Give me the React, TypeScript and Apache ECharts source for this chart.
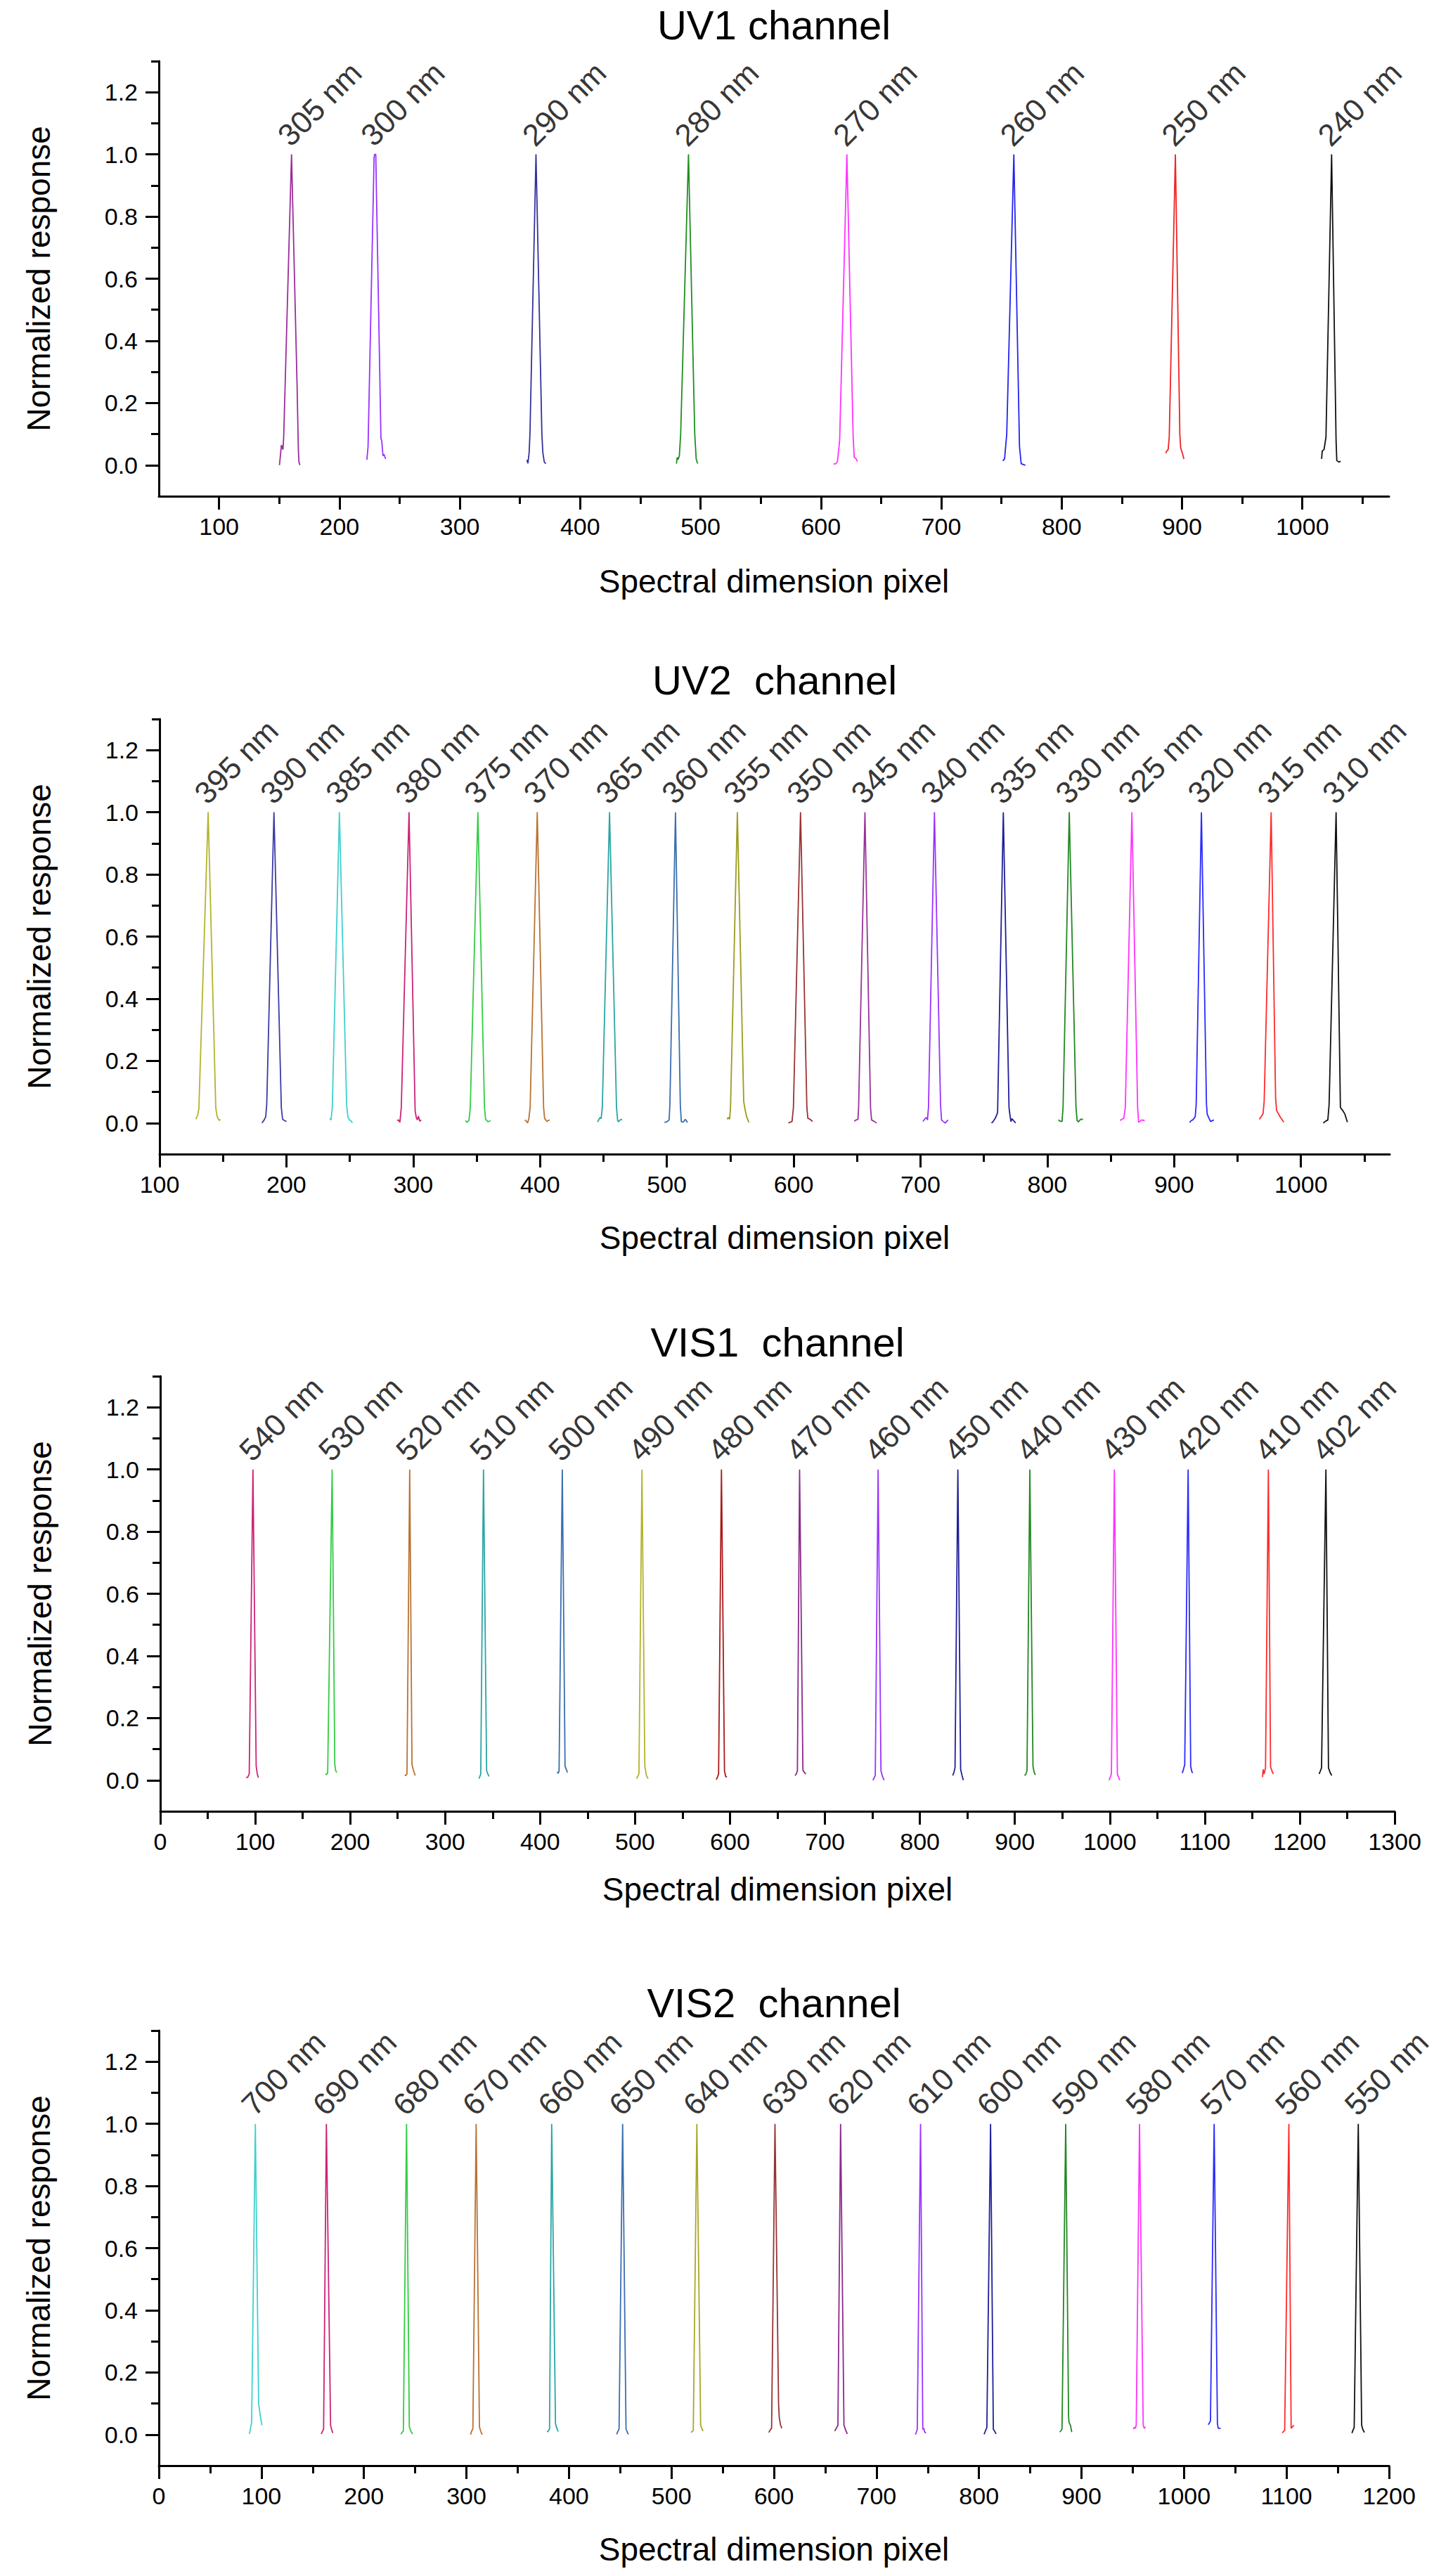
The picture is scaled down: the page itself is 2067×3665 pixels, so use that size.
import React, { useRef, useEffect } from 'react';
import * as echarts from 'echarts';

const FONT = 'Arial, "Liberation Sans", sans-serif';

// ---- UV1 channel ----
const uv1Labels = ['305 nm', '300 nm', '290 nm', '280 nm', '270 nm', '260 nm', '250 nm', '240 nm'];
const uv1Colors = ['#9b2d9b', '#9933ff', '#33339c', '#1f8f1f', '#ff33ff', '#2424f0', '#f02424', '#111111'];
const uv1Curves = [
  [[150.2, 0], [151.8, 0.065], [153.1, 0.05], [153.7, 0.09], [160.2, 1], [164.8, 0.26], [165.9, 0.05], [166.4, 0.01], [167.2, 0]],
  [[222.8, 0.017], [223.8, 0.06], [228.8, 0.99], [229.2, 1], [230.2, 1], [234.5, 0.085], [235.1, 0.08], [236.2, 0.03], [237, 0.035], [238.4, 0.02]],
  [[355.8, 0.017], [356.6, 0.006], [357.6, 0.04], [358.3, 0.1], [363.3, 1], [368.2, 0.1], [369, 0.04], [370.2, 0.01], [371.5, 0.005]],
  [[480, 0.005], [480.6, 0.025], [481.4, 0.018], [482.4, 0.03], [483.5, 0.1], [490, 1], [495.2, 0.1], [496.4, 0.02], [497.6, 0.005]],
  [[610.6, 0.003], [612.5, 0.005], [613.8, 0.012], [615.6, 0.08], [621.6, 1], [626.8, 0.09], [627.7, 0.025], [629, 0.022], [630.4, 0.012]],
  [[751.1, 0.014], [752.6, 0.02], [754.4, 0.1], [760.3, 1], [765, 0.06], [766.4, 0.005], [768, 0.002], [769.9, 0]],
  [[886.5, 0.038], [887.3, 0.045], [888.5, 0.05], [889.4, 0.09], [894.5, 1], [898.2, 0.1], [898.9, 0.055], [900.2, 0.04], [901.6, 0.02]],
  [[1016, 0.02], [1016.5, 0.045], [1018, 0.05], [1019.6, 0.09], [1024.3, 1], [1028, 0.08], [1028.6, 0.015], [1030.2, 0.01], [1031.8, 0.012]],
];
const uv1XMajor = [100, 200, 300, 400, 500, 600, 700, 800, 900, 1000];
const uv1XMinor = [150, 250, 350, 450, 550, 650, 750, 850, 950, 1050];

// ---- UV2 channel ----
const uv2Labels = ['395 nm', '390 nm', '385 nm', '380 nm', '375 nm', '370 nm', '365 nm', '360 nm', '355 nm',
  '350 nm', '345 nm', '340 nm', '335 nm', '330 nm', '325 nm', '320 nm', '315 nm', '310 nm'];
const uv2Colors = ['#b3b32e', '#3b3ba6', '#40d0d0', '#cc2277', '#33cc44', '#b87333', '#2aa5a5', '#3a6eb0', '#9c9c1c',
  '#993333', '#993399', '#9933ff', '#1f1f99', '#228822', '#ff33ff', '#2a2aff', '#ff2a2a', '#111111'];
const uv2Curves = [
  [[128.6, 0.012], [130, 0.025], [131, 0.046], [138.3, 1], [144.3, 0.05], [145.2, 0.025], [146, 0.015], [147.1, 0.008], [148, 0.012]],
  [[180.7, 0], [182.5, 0.01], [183.7, 0.02], [184.5, 0.06], [190.2, 1], [196, 0.05], [197, 0.012], [198.5, 0.008], [200, 0.005]],
  [[234.2, 0.015], [235.2, 0.01], [236.2, 0.05], [241.8, 1], [247.5, 0.06], [248.5, 0.02], [249.6, 0.01], [250.8, 0.008], [252, 0]],
  [[287.3, 0.008], [288.4, 0.01], [289.5, 0.002], [290.6, 0.05], [296.7, 1], [301.5, 0.04], [302.4, 0.018], [303.3, 0.01], [304.1, 0.022], [305.2, 0.006], [306.3, 0.01]],
  [[341.1, 0.008], [342.5, 0.002], [344, 0.01], [345, 0.05], [351, 1], [356.2, 0.05], [357.1, 0.012], [359, 0.004], [361.1, 0.008]],
  [[388, 0.01], [389.2, 0.006], [390.2, 0], [391.2, 0.015], [392.2, 0.05], [397.8, 1], [402.8, 0.05], [403.6, 0.015], [405.4, 0.005], [406.5, 0.008], [407.6, 0.01]],
  [[445.4, 0.003], [446.5, 0.012], [447.3, 0.018], [448.2, 0.014], [449.1, 0.05], [454.8, 1], [460.3, 0.05], [461.2, 0.008], [461.8, 0.004], [463.2, 0.01], [464.7, 0.012]],
  [[498.1, 0.002], [500, 0.004], [501.8, 0.01], [502.4, 0.06], [506.8, 1], [510.6, 0.06], [511.4, 0.004], [513, 0.003], [514.5, 0.012], [516.3, 0.002]],
  [[547.5, 0.012], [548.5, 0.018], [549.5, 0.012], [550.2, 0.05], [555.6, 1], [560.6, 0.07], [561.5, 0.047], [562.9, 0.02], [564.7, 0.002]],
  [[595.8, 0], [597, 0.002], [598.7, 0.005], [599.8, 0.05], [605.4, 1], [610.4, 0.05], [611.2, 0.015], [613, 0.012], [614.9, 0.005]],
  [[647.8, 0.006], [649.3, 0.01], [650.7, 0.012], [651.2, 0.05], [656.2, 1], [660.6, 0.05], [661.4, 0.01], [663.2, 0.006], [665.3, 0]],
  [[701.9, 0.005], [703.2, 0.012], [704.5, 0.018], [705.5, 0.01], [706.3, 0.05], [711, 1], [715.8, 0.06], [716.6, 0.01], [718, 0.005], [719.5, 0], [721.7, 0.01]],
  [[756, 0], [757.3, 0.005], [758.6, 0.013], [759.5, 0.02], [760.8, 0.034], [765.3, 1], [769.8, 0.05], [770.7, 0.02], [771.3, 0.005], [772.1, 0.014], [775, 0]],
  [[808.7, 0.01], [810.2, 0.006], [811.6, 0.005], [812.4, 0.05], [817.3, 1], [822.6, 0.05], [823.5, 0.008], [824.5, 0.004], [826.3, 0.012], [828.1, 0.012]],
  [[857.4, 0.008], [858.8, 0.012], [860.3, 0.015], [861.5, 0.05], [866.7, 1], [871.2, 0.05], [872, 0.002], [874.4, 0.01], [876.8, 0.008]],
  [[912.2, 0.002], [913.5, 0.008], [914.7, 0.01], [916.6, 0.02], [917.4, 0.06], [921.5, 1], [925.5, 0.06], [926.1, 0.028], [928.7, 0.005], [931.3, 0.01]],
  [[967.2, 0.012], [968.5, 0.02], [970.1, 0.03], [971, 0.07], [976.5, 1], [980, 0.08], [980.8, 0.04], [983.6, 0.02], [986.5, 0.003]],
  [[1017.6, 0], [1019.5, 0.006], [1021.2, 0.01], [1022.2, 0.06], [1027.7, 1], [1031.1, 0.05], [1033, 0.04], [1034.7, 0.028], [1036.6, 0.003]],
];
const uv2XMajor = [100, 200, 300, 400, 500, 600, 700, 800, 900, 1000];
const uv2XMinor = [150, 250, 350, 450, 550, 650, 750, 850, 950, 1050];

// ---- VIS1 channel ----
const vis1Labels = ['540 nm', '530 nm', '520 nm', '510 nm', '500 nm', '490 nm', '480 nm', '470 nm',
  '460 nm', '450 nm', '440 nm', '430 nm', '420 nm', '410 nm', '402 nm'];
const vis1Colors = ['#cc2277', '#33cc44', '#b87333', '#2aa5a5', '#3a6eb0', '#b3b32e', '#aa1a1a', '#8b2a8b',
  '#9933ff', '#1f1f99', '#228822', '#ff33ff', '#2a2aff', '#ff2a2a', '#111111'];
const vis1Curves = [
  [[90.3, 0.008], [92.2, 0.01], [93.7, 0.02], [97.6, 1], [101, 0.045], [102.2, 0.02], [103.4, 0.008]],
  [[173.8, 0.02], [175, 0.018], [176.3, 0.023], [181, 1], [183.8, 0.05], [184.8, 0.03], [186, 0.025]],
  [[257.4, 0.017], [258.4, 0.015], [259.8, 0.02], [262.7, 1], [265.1, 0.05], [266.8, 0.03], [268.5, 0.015]],
  [[335.5, 0.005], [336.6, 0.012], [337.5, 0.02], [340.4, 1], [343.7, 0.03], [345, 0.02], [346.2, 0.012]],
  [[418.1, 0.027], [419, 0.022], [420, 0.03], [423.4, 1], [426.3, 0.045], [427.6, 0.035], [428.8, 0.025]],
  [[501.6, 0.005], [502.8, 0.012], [504.1, 0.02], [507.3, 1], [510.3, 0.045], [512, 0.015], [513.7, 0.005]],
  [[585.6, 0.002], [586.8, 0.01], [588, 0.02], [591, 1], [594.2, 0.03], [595.5, 0.012], [596.8, 0.01]],
  [[668.5, 0.015], [669.8, 0.02], [671, 0.03], [673.3, 1], [676.8, 0.033], [678.3, 0.025], [679.8, 0.02]],
  [[750.5, 0], [751.8, 0.008], [753, 0.015], [756, 1], [759, 0.03], [760.6, 0.012], [762.3, 0]],
  [[834.6, 0.015], [835.8, 0.025], [837, 0.04], [840, 1], [842.9, 0.035], [844.4, 0.015], [845.8, 0]],
  [[910.3, 0.015], [911.6, 0.02], [912.8, 0.03], [915.8, 1], [919.1, 0.045], [920.4, 0.025], [921.6, 0.017]],
  [[999.3, 0], [1000.5, 0.01], [1001.7, 0.02], [1004.8, 1], [1008, 0.02], [1009.2, 0.01], [1010.5, 0]],
  [[1076.4, 0.023], [1077.6, 0.035], [1078.9, 0.05], [1082.5, 1], [1085.2, 0.045], [1086.2, 0.03], [1087.2, 0.023]],
  [[1160.9, 0.01], [1161.5, 0.035], [1162.5, 0.02], [1164, 0.04], [1167, 1], [1169.3, 0.043], [1170.8, 0.03], [1172.2, 0.02]],
  [[1220.5, 0.02], [1221.8, 0.03], [1223, 0.04], [1227.6, 1], [1230.3, 0.04], [1232, 0.025], [1233.7, 0.015]],
];
const vis1XMajor = [0, 100, 200, 300, 400, 500, 600, 700, 800, 900, 1000, 1100, 1200, 1300];
const vis1XMinor = [50, 150, 250, 350, 450, 550, 650, 750, 850, 950, 1050, 1150, 1250];

// ---- VIS2 channel ----
const vis2Labels = ['700 nm', '690 nm', '680 nm', '670 nm', '660 nm', '650 nm', '640 nm', '630 nm',
  '620 nm', '610 nm', '600 nm', '590 nm', '580 nm', '570 nm', '560 nm', '550 nm'];
const vis2Colors = ['#40d0d0', '#cc2277', '#33cc44', '#b87333', '#2aa5a5', '#3a6eb0', '#a8a828', '#993333',
  '#8b2a8b', '#9933ff', '#1f1f99', '#228822', '#ff33ff', '#2a2aff', '#ff2a2a', '#111111'];
const vis2Curves = [
  [[88.3, 0.002], [89.4, 0.02], [90.5, 0.04], [94.1, 1], [97.3, 0.1], [99, 0.06], [100.5, 0.03]],
  [[158.4, 0.002], [159.5, 0.01], [160.7, 0.017], [163.4, 1], [167.5, 0.03], [168.6, 0.015], [169.7, 0.005]],
  [[236.2, 0.001], [237.4, 0.008], [238.5, 0.011], [241.6, 1], [244.3, 0.025], [245.9, 0.01], [247.5, 0.002]],
  [[304.1, 0], [305.2, 0.012], [306.3, 0.018], [309.5, 1], [312.7, 0.025], [314, 0.01], [315.4, 0]],
  [[378.8, 0.008], [380, 0.012], [381.1, 0.018], [383.2, 1], [386.9, 0.035], [388.2, 0.02], [389.6, 0.01]],
  [[446.6, 0.001], [447.7, 0.01], [448.9, 0.018], [452.4, 1], [455.7, 0.018], [456.9, 0.008], [458, 0.001]],
  [[519, 0.007], [520.2, 0.01], [521.3, 0.013], [524.8, 1], [528.5, 0.03], [529.6, 0.02], [530.8, 0.011]],
  [[595, 0.007], [596.4, 0.015], [597.7, 0.02], [601, 1], [604.5, 0.1], [605.2, 0.054], [606.5, 0.03], [607.7, 0.02]],
  [[659.3, 0.011], [660.8, 0.02], [662.4, 0.03], [665, 1], [668.3, 0.03], [669.9, 0.015], [671.5, 0.002]],
  [[738, 0], [738.9, 0.008], [739.8, 0.017], [743, 1], [745.2, 0.017], [746.2, 0.02], [747, 0.008], [748.4, 0.005]],
  [[805, 0.001], [806.3, 0.012], [807.7, 0.023], [811.3, 1], [814, 0.017], [815.4, 0.01], [816.7, 0.002]],
  [[878.7, 0.008], [879.8, 0.012], [881, 0.017], [884.6, 1], [887.4, 0.06], [887.8, 0.04], [889.2, 0.03], [890.5, 0.008]],
  [[950.7, 0.017], [951.6, 0.024], [952.5, 0.02], [953.4, 0.03], [956.6, 1], [960.2, 0.03], [961.3, 0.02], [962.4, 0.025]],
  [[1023.5, 0.032], [1024.6, 0.036], [1025.8, 0.044], [1029.4, 1], [1032.6, 0.035], [1033.4, 0.02], [1034.5, 0.02], [1035.7, 0.02]],
  [[1095.9, 0.005], [1097, 0.01], [1098.2, 0.013], [1102.3, 1], [1104.5, 0.02], [1105.8, 0.025], [1107.2, 0.03]],
  [[1163.8, 0.005], [1165, 0.015], [1166, 0.023], [1170, 1], [1173.3, 0.03], [1174.6, 0.015], [1176, 0.007]],
];
const vis2XMajor = [0, 100, 200, 300, 400, 500, 600, 700, 800, 900, 1000, 1100, 1200];
const vis2XMinor = [50, 150, 250, 350, 450, 550, 650, 750, 850, 950, 1050, 1150];

const yMajor = [0, 0.2, 0.4, 0.6, 0.8, 1.0, 1.2];
const yMinor = [0.1, 0.3, 0.5, 0.7, 0.9, 1.1, 1.3];

const panels = [
  { title: 'UV1 channel', titleTop: 6, top: 87, left: 226, width: 1750, xMin: 50, xMax: 1072, nameGap: 98,
    xMajor: uv1XMajor, xMinor: uv1XMinor, labels: uv1Labels, colors: uv1Colors, curves: uv1Curves },
  { title: 'UV2  channel', titleTop: 938, top: 1023, left: 227, width: 1750, xMin: 100, xMax: 1070, nameGap: 96,
    xMajor: uv2XMajor, xMinor: uv2XMinor, labels: uv2Labels, colors: uv2Colors, curves: uv2Curves },
  { title: 'VIS1  channel', titleTop: 1880, top: 1958, left: 228, width: 1756, xMin: 0, xMax: 1300, nameGap: 88,
    xMajor: vis1XMajor, xMinor: vis1XMinor, labels: vis1Labels, colors: vis1Colors, curves: vis1Curves },
  { title: 'VIS2  channel', titleTop: 2820, top: 2889, left: 226, width: 1750, xMin: 0, xMax: 1200, nameGap: 96,
    xMajor: vis2XMajor, xMinor: vis2XMinor, labels: vis2Labels, colors: vis2Colors, curves: vis2Curves },
];

const PLOT_H = 619;
const axisLineStyle = { color: '#000', width: 3 };

const buildOption = (): echarts.EChartsOption => {
  const title: any[] = [];
  const grid: any[] = [];
  const xAxis: any[] = [];
  const yAxis: any[] = [];
  const series: any[] = [];

  panels.forEach((p, i) => {
    title.push({
      text: p.title,
      left: p.left + p.width / 2,
      top: p.titleTop,
      padding: 0,
      textAlign: 'center',
      textStyle: { fontFamily: FONT, fontSize: 58, fontWeight: 'normal', color: '#000' },
    });
    grid.push({ left: p.left, top: p.top, width: p.width, height: PLOT_H });

    // main x axis: line, major ticks, labels, name
    xAxis.push({
      type: 'value', gridIndex: i, min: p.xMin, max: p.xMax, position: 'bottom',
      axisLine: { show: true, onZero: false, lineStyle: axisLineStyle },
      axisTick: { show: true, customValues: p.xMajor, length: 19, lineStyle: axisLineStyle },
      axisLabel: {
        customValues: p.xMajor, fontSize: 34, fontFamily: FONT, color: '#000', margin: 26,
        formatter: (v: number) => String(v),
      },
      splitLine: { show: false },
      name: 'Spectral dimension pixel', nameLocation: 'middle', nameGap: p.nameGap,
      nameTextStyle: { fontSize: 46, fontFamily: FONT, color: '#000' },
    });
    // minor x ticks
    xAxis.push({
      type: 'value', gridIndex: i, min: p.xMin, max: p.xMax, position: 'bottom',
      axisLine: { show: false, onZero: false },
      axisTick: { show: true, customValues: p.xMinor, length: 11, lineStyle: axisLineStyle },
      axisLabel: { show: false },
      splitLine: { show: false },
    });
    yAxis.push({
      type: 'value', gridIndex: i, min: -0.1, max: 1.3, position: 'left',
      axisLine: { show: true, onZero: false, lineStyle: axisLineStyle },
      axisTick: { show: true, customValues: yMajor, length: 19, lineStyle: axisLineStyle },
      axisLabel: {
        customValues: yMajor, fontSize: 34, fontFamily: FONT, color: '#000', margin: 30,
        formatter: (v: number) => v.toFixed(1),
      },
      splitLine: { show: false },
      name: 'Normalized response', nameLocation: 'middle', nameGap: 148, nameRotate: 90,
      nameTextStyle: { fontSize: 46, fontFamily: FONT, color: '#000' },
    });
    yAxis.push({
      type: 'value', gridIndex: i, min: -0.1, max: 1.3, position: 'left',
      axisLine: { show: false, onZero: false },
      axisTick: { show: true, customValues: yMinor, length: 11, lineStyle: axisLineStyle },
      axisLabel: { show: false },
      splitLine: { show: false },
    });

    p.curves.forEach((c, k) => {
      series.push({
        type: 'line', name: p.labels[k], xAxisIndex: i * 2, yAxisIndex: i * 2,
        data: c, showSymbol: false, silent: true,
        lineStyle: { color: p.colors[k], width: 1.8 },
        itemStyle: { color: p.colors[k] },
      });
    });

    // wavelength labels placed at each peak's apex
    series.push({
      type: 'scatter', xAxisIndex: i * 2, yAxisIndex: i * 2, silent: true,
      symbolSize: 1, itemStyle: { color: 'rgba(0,0,0,0)' },
      data: p.curves.map((c, k) => {
        const apex = c.reduce((a, b) => (b[1] > a[1] ? b : a));
        return { name: p.labels[k], value: [apex[0], apex[1]] };
      }),
      label: {
        show: true, formatter: '{b}', position: [4, -4], rotate: 45,
        align: 'left', verticalAlign: 'bottom',
        fontSize: 44, fontFamily: FONT, color: '#000',
      },
    });
  });

  return { animation: false, backgroundColor: '#fff', title, grid, xAxis, yAxis, series };
};

const App: React.FC = () => {
  const chartRef = useRef<HTMLDivElement>(null);

  useEffect(() => {
    if (!chartRef.current) return;
    document.body.style.margin = '0';
    const chart = echarts.init(chartRef.current, null, { renderer: 'svg' });
    chart.setOption(buildOption());
    return () => {
      chart.dispose();
    };
  }, []);

  return <div ref={chartRef} style={{ width: 2067, height: 3665 }} />;
};

export default App;
